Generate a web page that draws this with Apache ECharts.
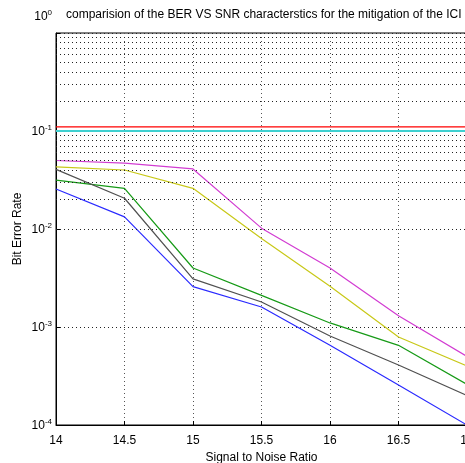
<!DOCTYPE html>
<html>
<head>
<meta charset="utf-8">
<script src="https://cdn.jsdelivr.net/npm/echarts@6/dist/echarts.min.js"></script>
<style>html,body{margin:0;padding:0;background:#fff;}#c{width:465px;height:463px;}</style>
</head>
<body>
<div id="c"></div>
<script>
var snr = [14, 14.5, 15, 15.5, 16, 16.5, 17];
var xTicks = ['14', '14.5', '15', '15.5', '16', '16.5', '17'];
var yTicks = [1e-4, 1e-3, 1e-2, 1e-1, 1];
var berRed = [0.11, 0.11, 0.11, 0.11, 0.11, 0.11, 0.11];
var berCyan = [0.1, 0.1, 0.1, 0.1, 0.1, 0.1, 0.1];
var berMagenta = [0.05, 0.047, 0.041, 0.0102, 0.004, 0.0013, 0.0005];
var berYellow = [0.043, 0.040, 0.026, 0.0080, 0.0026, 0.00079, 0.0004];
var berGreen = [0.0316, 0.026, 0.0040, 0.0021, 0.0011, 0.00065, 0.00026];
var berBlack = [0.0406, 0.0206, 0.0031, 0.0018, 0.00081, 0.00041, 0.0002];
var berBlue = [0.0256, 0.0133, 0.00258, 0.0016, 0.00065, 0.000256, 0.0001];

function pairs(ys) { return snr.map(function (x, i) { return [x, ys[i]]; }); }

var minorLines = [];
for (var k = -4; k < 0; k++) {
  for (var m = 2; m <= 9; m++) minorLines.push({ yAxis: m * Math.pow(10, k) });
}

function mk(name, data, color, width) {
  return { name: name, type: 'line', data: pairs(data), showSymbol: false, symbol: 'none',
    lineStyle: { color: color, width: width || 1 }, itemStyle: { color: color }, z: 3, animation: false };
}

var chart = echarts.init(document.getElementById('c'), null, { renderer: 'canvas' });
chart.setOption({
  animation: false,
  backgroundColor: '#fff',
  textStyle: { fontFamily: 'Liberation Sans, Arial, sans-serif' },
  title: {
    text: 'comparision of the BER VS SNR characterstics for the mitigation of the ICI',
    left: 66, top: 9, padding: 0,
    textStyle: { fontSize: 12, fontWeight: 'normal', color: '#000', fontFamily: 'Liberation Sans, Arial, sans-serif' }
  },
  grid: { left: 56, top: 33, right: -2, bottom: 38, show: true, borderColor: '#000', borderWidth: 1,
    containLabel: false, outerBoundsMode: 'none' },
  xAxis: {
    type: 'value', min: 14, max: 17, interval: 0.5,
    name: 'Signal to Noise Ratio', nameLocation: 'middle', nameGap: 26,
    nameTextStyle: { fontSize: 12, color: '#000' },
    axisLine: { lineStyle: { color: '#000', width: 1 } },
    axisTick: { inside: true, length: 4, lineStyle: { color: '#000' } },
    axisLabel: { fontSize: 12, color: '#000', margin: 10, showMaxLabel: true, hideOverlap: false,
      formatter: function (v) { var i = snr.indexOf(v); return i >= 0 ? xTicks[i] : ''; } },
    splitLine: { show: true, lineStyle: { color: '#555', type: [1, 3], width: 1 } }
  },
  yAxis: {
    type: 'log', logBase: 10, min: 1e-4, max: 1,
    name: 'Bit Error Rate', nameLocation: 'middle', nameGap: 32, nameMoveOverlap: false,
    nameTextStyle: { fontSize: 12, color: '#000' },
    axisLine: { show: true, lineStyle: { color: '#000', width: 1 } },
    axisTick: { inside: true, length: 4, lineStyle: { color: '#000' } },
    axisLabel: {
      margin: 4, color: '#000',
      formatter: function (v) {
        var e = Math.round(Math.log10(v));
        if (yTicks.indexOf(Math.pow(10, e)) < 0) return '';
        if (e === 0) return '{b|10}{e|0}\n{spTop| }';
        return '{b|10}{e|' + e + '}\n{sp| }';
      },
      rich: {
        b: { fontSize: 12, color: '#000', verticalAlign: 'bottom', lineHeight: 14 },
        e: { fontSize: 8, color: '#000', verticalAlign: 'top', lineHeight: 8 },
        sp: { fontSize: 1, lineHeight: 1 },
        spTop: { fontSize: 1, lineHeight: 34 }
      }
    },
    splitLine: { show: true, lineStyle: { color: '#222', type: [1, 3], width: 1 } }
  },
  series: [
    { name: 'grid', type: 'line', data: [], silent: true, z: 1,
      markLine: { silent: true, symbol: 'none', animation: false, label: { show: false },
        lineStyle: { color: '#222', type: [1, 3], width: 1 }, data: minorLines } },
    mk('red', berRed, '#ff0000', 1.2),
    mk('cyan', berCyan, '#3fd0d0', 2),
    mk('magenta', berMagenta, '#d23cd2', 1.2),
    mk('yellow', berYellow, '#c8c818', 1.2),
    mk('green', berGreen, '#169a16', 1.2),
    mk('black', berBlack, '#505050', 1.2),
    mk('blue', berBlue, '#2a2aff', 1.2)
  ]
});
</script>
</body>
</html>
